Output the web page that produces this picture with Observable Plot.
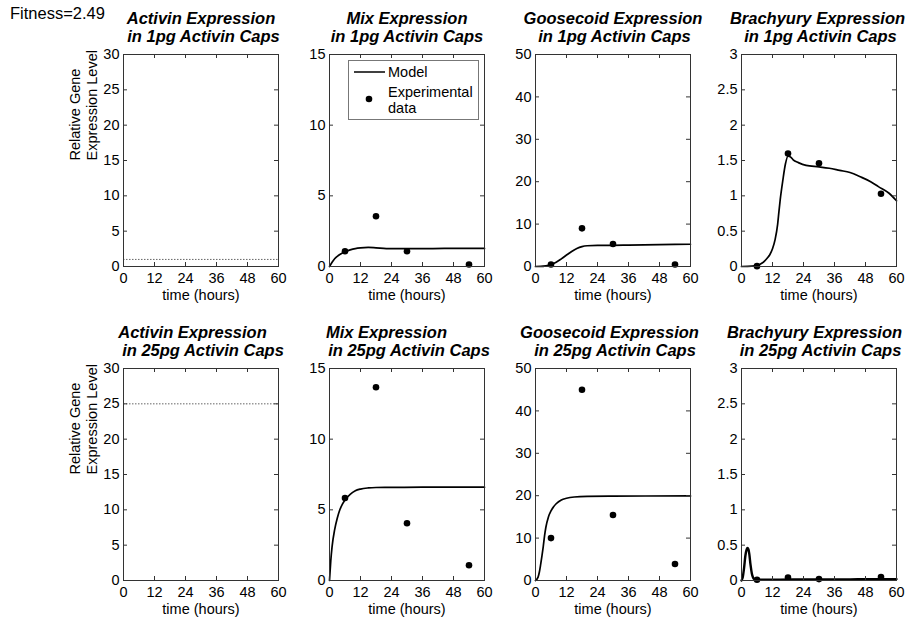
<!DOCTYPE html>
<html><head><meta charset="utf-8">
<script src="https://cdn.jsdelivr.net/npm/d3@7"></script>
<script src="https://cdn.jsdelivr.net/npm/@observablehq/plot@0.6"></script>
<style>
body{margin:0;background:#fff;}
#wrap{position:relative;width:909px;height:622px;overflow:hidden;background:#fff;font-family:"Liberation Sans",Arial,sans-serif;}
#fitness{position:absolute;left:10px;top:5px;font-size:16.5px;line-height:16.5px;color:#000;}
#legend{position:absolute;left:348px;top:60px;}
</style></head><body>
<div id="wrap"><div id="fitness">Fitness=2.49</div></div>
<script>
// ---- data ----
const xTicks = [0, 12, 24, 36, 48, 60];
const expTimes = [6, 18, 30, 54];
const activinLevels = [1, 25];

const mix1ModelT = [0,1,2,3,4,5,6,8,10,12,15,18,22,26,30,40,50,60];
const mix1Model  = [0,0.3,0.55,0.72,0.85,0.96,1.05,1.18,1.27,1.32,1.35,1.32,1.27,1.26,1.26,1.27,1.28,1.28];
const mix1Exp    = [1.08, 3.56, 1.08, 0.14];

const gsc1ModelT = [0,2,4,6,8,10,12,14,16,18,20,24,30,36,48,60];
const gsc1Model  = [0,0.02,0.15,0.45,1.0,1.8,2.7,3.55,4.25,4.7,4.9,5.0,5.0,5.05,5.15,5.25];
const gsc1Exp    = [0.47, 9.0, 5.3, 0.47];

const bra1ModelT = [0,4,6,8,9,10,11,12,13,14,14.5,15,16,17,18,19,20,22,25,30,34,38,42,46,50,53,57,60];
const bra1Model  = [0,0.005,0.015,0.05,0.08,0.12,0.17,0.25,0.38,0.6,0.78,0.95,1.22,1.45,1.56,1.55,1.51,1.47,1.43,1.41,1.39,1.36,1.33,1.27,1.2,1.13,1.04,0.93];
const bra1Exp    = [0.005, 1.6, 1.46, 1.03];

const mix25ModelT = [0,0.5,1,2,3,4,5,6,8,10,12,15,18,24,36,48,60];
const mix25Model  = [0,1.4,2.4,3.6,4.4,5.0,5.4,5.7,6.1,6.35,6.47,6.55,6.58,6.59,6.6,6.6,6.6];
const mix25Exp    = [5.84, 13.67, 4.05, 1.08];

const gsc25ModelT = [0,1,1.5,2,2.5,3,3.5,4,5,6,7,8,10,12,15,20,30,60];
const gsc25Model  = [0,0.8,2,3.8,5.8,8,10.5,12.5,15,16.4,17.4,18.1,19,19.4,19.7,19.85,19.9,19.95];
const gsc25Exp    = [10.0, 45.0, 15.45, 3.9];

const bra25ModelT = [0,0.5,1,1.5,2,2.3,2.7,3,3.5,4,4.5,5,6,10,20,30,40,50,60];
const bra25Model  = [0,0.05,0.18,0.35,0.44,0.46,0.44,0.38,0.22,0.1,0.04,0.02,0.01,0.01,0.015,0.015,0.015,0.02,0.02];
const bra25Exp    = [0.01, 0.04, 0.02, 0.05];

const ticksActivin = [0,5,10,15,20,25,30];
const ticksMix = [0,5,10,15];
const ticksGsc = [0,10,20,30,40,50];
const ticksBra = [0,0.5,1,1.5,2,2.5,3];

const panels = [
  {gene:"Activin", dose:"1pg", yMax:30, yTicks:ticksActivin, activin:activinLevels[0]},
  {gene:"Mix", dose:"1pg", yMax:15, yTicks:ticksMix, mt:mix1ModelT, mv:mix1Model, ev:mix1Exp},
  {gene:"Goosecoid", dose:"1pg", yMax:50, yTicks:ticksGsc, mt:gsc1ModelT, mv:gsc1Model, ev:gsc1Exp},
  {gene:"Brachyury", dose:"1pg", yMax:3, yTicks:ticksBra, mt:bra1ModelT, mv:bra1Model, ev:bra1Exp},
  {gene:"Activin", dose:"25pg", yMax:30, yTicks:ticksActivin, activin:activinLevels[1]},
  {gene:"Mix", dose:"25pg", yMax:15, yTicks:ticksMix, mt:mix25ModelT, mv:mix25Model, ev:mix25Exp},
  {gene:"Goosecoid", dose:"25pg", yMax:50, yTicks:ticksGsc, mt:gsc25ModelT, mv:gsc25Model, ev:gsc25Exp},
  {gene:"Brachyury", dose:"25pg", yMax:3, yTicks:ticksBra, mt:bra25ModelT, mv:bra25Model, ev:bra25Exp}
];

// ---- layout (styles) ----
const FW = 155, FH = 212;
const frameLefts = [123, 329, 535, 741];
const frameTops = [54, 368];
const ML = 70, MR = 15, MT = 50, MB = 45;
const titleDx = [[0,2.5],[0,0],[0,1.5],[-1.5,1.5],[-8.5,2],[-20.5,2],[-3.5,2],[-4.5,1.5]];
const lineWidths = [1.7,1.7,1.7,1.7,1.7,1.7,1.7,2.4];
const axisColor = "#333";
const font = "'Liberation Sans', Arial, sans-serif";

const wrap = document.getElementById("wrap");

panels.forEach((p, i) => {
  const col = i % 4, row = Math.floor(i / 4);
  const marks = [];
  if (p.activin !== undefined) {
    marks.push(Plot.ruleY([p.activin], {y: d => d, stroke: "#666", strokeWidth: 1, strokeDasharray: "1.5,1.5"}));
  }
  if (p.mt) {
    const model = p.mt.map((t, k) => ({t, v: p.mv[k]}));
    const exp = expTimes.map((t, k) => ({t, v: p.ev[k]}));
    marks.push(Plot.line(model, {x: "t", y: "v", stroke: "black", strokeWidth: lineWidths[i], curve: "monotone-x"}));
    marks.push(Plot.dot(exp, {x: "t", y: "v", r: 3.3, fill: "black", stroke: "none"}));
  }
  // inward ticks on all four sides
  marks.push(Plot.ruleX(xTicks, {x: d => d, insetTop: FH - 4, stroke: axisColor}));
  marks.push(Plot.ruleX(xTicks, {x: d => d, insetBottom: FH - 4, stroke: axisColor}));
  marks.push(Plot.ruleY(p.yTicks, {y: d => d, insetRight: FW - 4, stroke: axisColor}));
  marks.push(Plot.ruleY(p.yTicks, {y: d => d, insetLeft: FW - 4, stroke: axisColor}));
  marks.push(Plot.frame({stroke: axisColor, strokeWidth: 1}));
  // titles
  marks.push(Plot.text([`${p.gene} Expression`], {text: d => d, frameAnchor: "top", dy: -36, dx: titleDx[i][0],
    fontWeight: "bold", fontStyle: "italic", fontSize: 16.5, fill: "black", lineAnchor: "middle"}));
  marks.push(Plot.text([`in ${p.dose} Activin Caps`], {text: d => d, frameAnchor: "top", dy: -17.5, dx: titleDx[i][1],
    fontWeight: "bold", fontStyle: "italic", fontSize: 16.5, fill: "black", lineAnchor: "middle"}));
  // x label
  marks.push(Plot.text(["time (hours)"], {text: d => d, frameAnchor: "bottom", dy: 29, fontSize: 14.5, fill: "black", lineAnchor: "middle"}));
  if (col === 0) {
    marks.push(Plot.text(["Relative Gene\nExpression Level"], {text: d => d, frameAnchor: "left", dx: -40.5, rotate: -90,
      fontSize: 14.5, fill: "black", lineAnchor: "middle", lineHeight: 1.17}));
  }
  const svg = Plot.plot({
    width: ML + FW + MR, height: MT + FH + MB,
    marginLeft: ML, marginRight: MR, marginTop: MT, marginBottom: MB,
    x: {domain: [0, 60], ticks: xTicks, tickSize: 0, tickPadding: 6, label: null},
    y: {domain: [0, p.yMax], ticks: p.yTicks, tickSize: 0, tickPadding: 4, label: null, tickFormat: d => String(d)},
    style: {fontFamily: font, fontSize: "14.5px", background: "transparent", overflow: "visible", color: "black"},
    marks
  });
  svg.style.position = "absolute";
  svg.style.left = (frameLefts[col] - ML) + "px";
  svg.style.top = (frameTops[row] - MT) + "px";
  svg.style.maxWidth = "none";
  wrap.appendChild(svg);
});

// legend (in the Mix 1pg panel)
const legend = document.createElement("div");
legend.id = "legend";
legend.innerHTML = `<svg width="131" height="60" style="font-family:${font};font-size:14.5px">
  <rect x="0.5" y="0.5" width="130" height="59" fill="white" stroke="#777" stroke-width="1"/>
  <line x1="6" x2="37" y1="12" y2="12" stroke="black" stroke-width="1.5"/>
  <text x="40" y="12" dominant-baseline="central">Model</text>
  <circle cx="21" cy="39" r="3.3" fill="black"/>
  <text x="40" y="31.5" dominant-baseline="central">Experimental</text>
  <text x="40" y="48" dominant-baseline="central">data</text>
</svg>`;
wrap.appendChild(legend);
</script>
</body></html>
